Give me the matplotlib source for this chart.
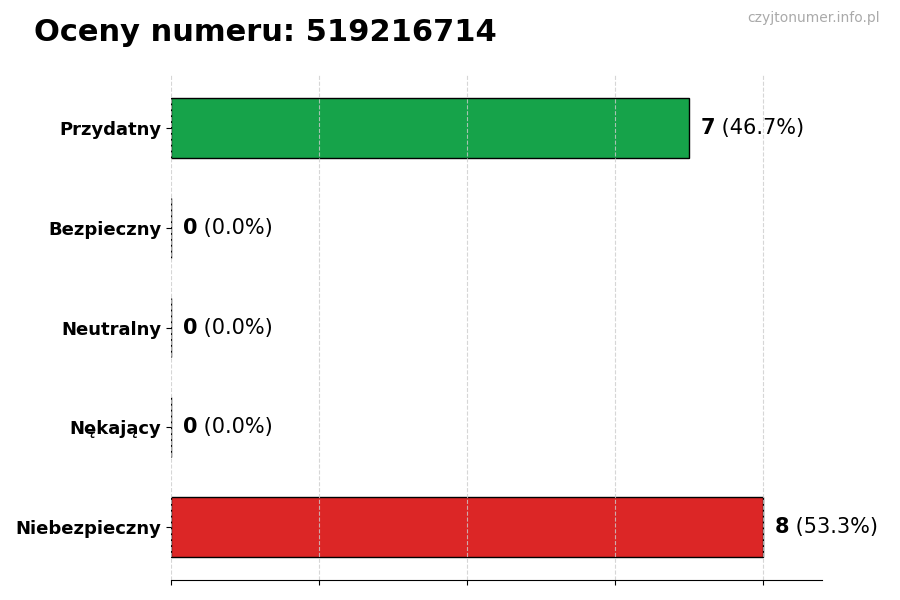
import matplotlib.pyplot as plt
from matplotlib.ticker import MultipleLocator

categories = ['Przydatny', 'Bezpieczny', 'Neutralny', 'Nękający', 'Niebezpieczny']
counts = [7, 0, 0, 0, 8]
colors = ['#16a34a', '#9ca3af', '#6b7280', '#f97316', '#dc2626']
number = '519216714'

total = sum(counts)
ypos = list(range(len(categories)))

fig = plt.figure(figsize=(9, 6), dpi=100)
ax = fig.add_axes([0.19, 0.0333, 0.7233, 0.8417])

ax.barh(ypos, counts, height=0.6, color=colors, edgecolor='black', linewidth=1)
ax.invert_yaxis()
ax.set_yticks(ypos)
ax.set_yticklabels(categories, fontsize=13, fontweight='bold')
ax.set_xlim(0, max(counts) * 1.1)
ax.xaxis.set_major_locator(MultipleLocator(2))
ax.tick_params(axis='x', labelbottom=False)
ax.grid(axis='x', linestyle='--', color='#cccccc', alpha=0.8, linewidth=0.8)
for s in ['top', 'right', 'left']:
    ax.spines[s].set_visible(False)

off = max(counts) * 0.02
for y, c in zip(ypos, counts):
    pct = c / total * 100
    t = ax.text(c + off, y, str(c), va='center', ha='left', fontsize=15, fontweight='bold')
    ax.annotate(f' ({pct:.1f}%)', xy=(1, 0), xycoords=t, va='bottom', ha='left', fontsize=15)

fig.text(0.038, 0.97, f'Oceny numeru: {number}', fontsize=22, fontweight='bold', va='top', ha='left')
fig.text(0.978, 0.982, 'czyjtonumer.info.pl', fontsize=10, color='#aaaaaa', va='top', ha='right')

fig.savefig('out.png', dpi=100)
